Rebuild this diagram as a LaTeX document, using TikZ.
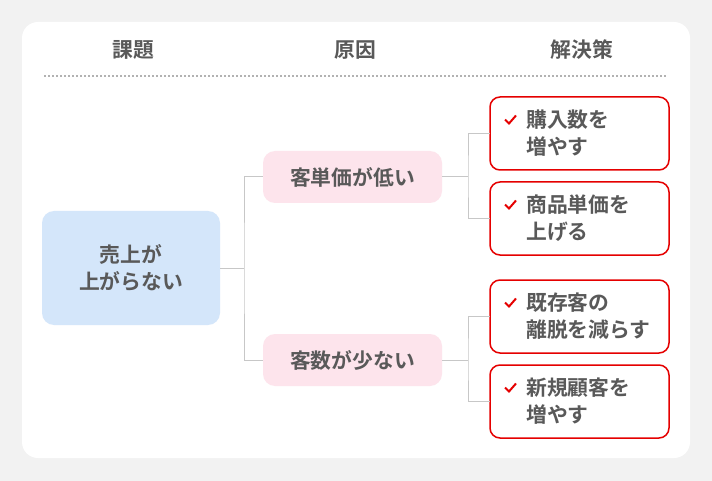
\documentclass[tikz,border=0pt]{standalone}
\usepackage{fontspec}
\setmainfont{Noto Sans CJK JP}[BoldFont={Noto Sans CJK JP Bold}]
\definecolor{pinkbg}{HTML}{FDE4EC}
\definecolor{bluebg}{HTML}{D4E6FA}
\begin{document}
\begin{tikzpicture}[x=1pt,y=-1pt,
  txt/.style={font=\fontsize{20.8}{27}\selectfont\bfseries, text=black!65},
  link/.style={draw=black!22, line width=1pt},
  sol/.style={draw=red!90!black, line width=1.5pt, rounded corners=10pt, fill=white},
  chk/.style={draw=red!90!black, line width=2pt}]
\fill[black!5] (0,0) rectangle (712,481);
\fill[white, rounded corners=16pt] (22,22) rectangle (690,458);
\node[txt] (h1) at (133,50) {課題};
\node[txt] (h2) at (355,50) {原因};
\node[txt] (h3) at (582,50) {解決策};
\draw[black!30, line width=1.5pt, dash pattern=on 1.5pt off 2.5pt] (44,76) -- (668,76);
\node[fill=bluebg, rounded corners=12pt, minimum width=178pt, minimum height=114pt, txt, align=center] (a) at (131,268) {売上が\\上がらない};
\node[fill=pinkbg, rounded corners=12pt, minimum width=179pt, minimum height=52pt, txt] (b1) at (352.5,177) {客単価が低い};
\node[fill=pinkbg, rounded corners=12pt, minimum width=179pt, minimum height=52pt, txt] (b2) at (352.5,360) {客数が少ない};
\foreach \n/\y/\l/\ll in {c1/133.5/購入数を/増やす, c2/218.5/商品単価を/上げる, c3/316.5/既存客の/離脱を減らす, c4/401.5/新規顧客を/増やす}{
  \draw[sol] (490,\y-36.5) rectangle (669,\y+36.5);
  \coordinate (\n) at (490,\y);
  \draw[chk] (505,\y-14) -- (509,\y-10) -- (516,\y-18);
  \node[txt, anchor=west, align=left, inner xsep=0pt] at (526,\y) {\l\\\ll};
}
\draw[link] (a.east) -- (244,268);
\draw[link] (b1.west) -| (244,268) |- (b2.west);
\draw[link] (b1.east) -- (468,177);
\draw[link] (c1) -| (468,177) |- (c2);
\draw[link] (b2.east) -- (468,360);
\draw[link] (c3) -| (468,360) |- (c4);
\end{tikzpicture}
\end{document}
